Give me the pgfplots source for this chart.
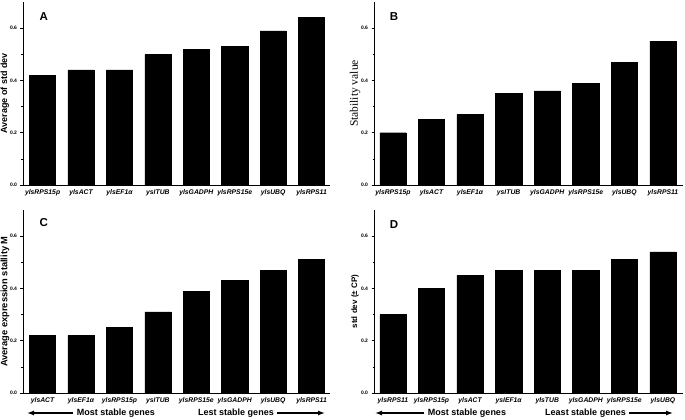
\documentclass[border=0pt]{standalone}
\usepackage{pgfplots}
\pgfplotsset{compat=1.18}
\usepackage{fontspec}
\setmainfont{Liberation Sans}
\newfontfamily\tnr{Liberation Serif}
\usetikzlibrary{arrows.meta}

\pgfplotsset{
 panel/.style={
  scale only axis, width=307pt, height=183pt,
  anchor=south west,
  axis lines=left, axis line style={-, line width=0.8pt, black},
  ymin=0, ymax=0.7, xmin=-0.51, xmax=7.48,
  ytick={0,0.2,0.4,0.6}, minor ytick={0.1,0.3,0.5},
  xtick={0,...,7},
  tick align=outside, major tick length=2.5pt, minor tick length=1.5pt,
  tick style={black, line width=0.6pt},
  x tick style={draw=none},
  yticklabel style={font=\bfseries\fontsize{5}{6}\selectfont,
    /pgf/number format/fixed, /pgf/number format/fixed zerofill,
    /pgf/number format/precision=1, /pgf/number format/assume math mode=true},
  xticklabel style={font=\bfseries\itshape\fontsize{6.8}{8}\selectfont, yshift=1pt},
  ybar, bar width=0.68,
  clip=false,
 },
 right panel/.style={width=309pt, xmin=-0.49, xmax=7.52},
 bars/.style={fill=black, draw=black},
}
\tikzset{letter/.style={font=\bfseries\fontsize{11.5}{13}\selectfont}}

\begin{document}
\begin{tikzpicture}
\useasboundingbox (0,0) rectangle (685pt,420pt);

% Panel A
\begin{axis}[panel, at={(23pt,235pt)},
  xticklabels={ylsRPS15p, ylsACT, ylsEF1α, ysITUB, ylsGADPH, ylsRPS15e, ylsUBQ, ylsRPS11},
  ylabel={Average of std dev},
  ylabel style={at={(axis description cs:-0.059,0.5)}, anchor=center, font=\bfseries\fontsize{9}{10}\selectfont}]
\addplot[bars] coordinates {(0,0.42) (1,0.44) (2,0.44) (3,0.50) (4,0.52) (5,0.53) (6,0.59) (7,0.64)};
\node[letter] at (axis description cs:0.068,0.923) {A};
\end{axis}

% Panel B
\begin{axis}[panel, right panel, at={(374pt,235pt)},
  xticklabels={ylsRPS15p, ylsACT, ylsEF1α, ysITUB, ylsGADPH, ylsRPS15e, ylsUBQ, ylsRPS11},
  ylabel={Stability value},
  ylabel style={at={(axis description cs:-0.061,0.5)}, anchor=center, font=\tnr\fontsize{11.5}{13}\selectfont}]
\addplot[bars] coordinates {(0,0.20) (1,0.25) (2,0.27) (3,0.35) (4,0.36) (5,0.39) (6,0.47) (7,0.55)};
\node[letter] at (axis description cs:0.065,0.923) {B};
\end{axis}

% Panel C
\begin{axis}[panel, at={(23pt,27pt)},
  xticklabels={ylsACT, ylsEF1α, ylsRPS15p, ysITUB, ylsRPS15e, ylsGADPH, ylsUBQ, ylsRPS11},
  ylabel={Average expression stallity M},
  ylabel style={at={(axis description cs:-0.059,0.5)}, anchor=center, font=\bfseries\fontsize{9.3}{10}\selectfont}]
\addplot[bars] coordinates {(0,0.22) (1,0.22) (2,0.25) (3,0.31) (4,0.39) (5,0.43) (6,0.47) (7,0.51)};
\node[letter] at (axis description cs:0.068,0.929) {C};
\end{axis}

% Panel D
\begin{axis}[panel, right panel, at={(374pt,27pt)},
  xticklabels={ylsRPS11, ylsRPS15p, ylsACT, ysIEF1α, ylsTUB, ylsGADPH, ylsRPS15e, ylsUBQ},
  ylabel={std dev (± CP)},
  ylabel style={at={(axis description cs:-0.061,0.5)}, anchor=center, font=\bfseries\fontsize{8}{9}\selectfont}]
\addplot[bars] coordinates {(0,0.30) (1,0.40) (2,0.45) (3,0.47) (4,0.47) (5,0.47) (6,0.51) (7,0.54)};
\node[letter] at (axis description cs:0.065,0.923) {D};
\end{axis}

% Bottom annotations
\begin{scope}[font=\bfseries\fontsize{9}{10}\selectfont]
\node (cl) at (116pt,7pt) {Most stable genes};
\node (cr) at (236pt,7pt) {Lest stable genes};
\draw[line width=1.3pt, -{Latex[length=7pt,width=5pt]}] (cl.west) -- (27pt,7pt);
\draw[line width=1.3pt, -{Latex[length=7pt,width=5pt]}] (cr.east) -- (325pt,7pt);
\node (dl) at (467pt,7pt) {Most stable genes};
\node (dr) at (585.5pt,7pt) {Least stable genes};
\draw[line width=1.3pt, -{Latex[length=7pt,width=5pt]}] (dl.west) -- (375pt,7pt);
\draw[line width=1.3pt, -{Latex[length=7pt,width=5pt]}] (dr.east) -- (673pt,7pt);
\end{scope}
\end{tikzpicture}
\end{document}
